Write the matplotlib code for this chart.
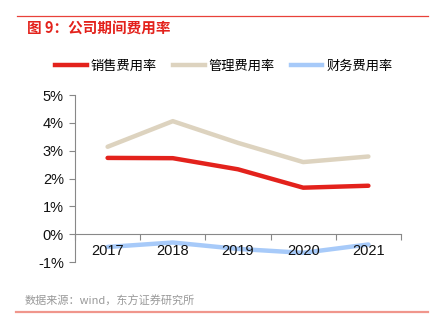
import matplotlib
matplotlib.use("Agg")
import matplotlib.pyplot as plt
from matplotlib.lines import Line2D

plt.rcParams['font.family'] = ['Liberation Sans', 'Noto Sans CJK SC', 'DejaVu Sans']

years = ['2017', '2018', '2019', '2020', '2021']
sales = [2.74, 2.73, 2.33, 1.67, 1.74]
admin = [3.14, 4.06, 3.28, 2.59, 2.79]
finance = [-0.46, -0.30, -0.53, -0.67, -0.37]
yticks = [-1, 0, 1, 2, 3, 4, 5]
series_names = ['销售费用率', '管理费用率', '财务费用率']
colors = ['#E3221C', '#DDD3BF', '#A7CAF9']

W, H = 445, 324
fig = plt.figure(figsize=(W/100, H/100), dpi=100)

ax = fig.add_axes([75/W, 1-262/H, (401-75)/W, (262-95)/H])
x = list(range(len(years)))
for vals, c in zip([sales, admin, finance], colors):
    ax.plot(x, vals, color=c, lw=3.2, solid_capstyle='round', zorder=3)

ax.set_xlim(-0.5, len(years)-0.5)
ax.set_ylim(-1, 5)
ax.set_yticks(yticks)
ax.set_yticklabels([f'{v}%' for v in yticks], fontsize=10.5, color='#111111')
for s in ['top', 'right']:
    ax.spines[s].set_visible(False)
ax.spines['bottom'].set_position(('data', 0))
ax.spines['bottom'].set_color('#888888')
ax.spines['left'].set_color('#888888')
ax.spines['bottom'].set_linewidth(0.8)
ax.spines['left'].set_linewidth(0.8)
ax.tick_params(axis='y', direction='out', length=4, color='#888888', pad=4)
ax.set_xticks([i - 0.5 for i in range(len(years)+1)])
ax.set_xticklabels([])
ax.tick_params(axis='x', direction='out', length=4, color='#888888')
for i, yr in enumerate(years):
    ax.text(i, -0.62, yr, ha='center', va='center', fontsize=10.5, color='#111111')

# legend
handles = [Line2D([0], [0], color=c, lw=3.2) for c in colors]
fig.legend(handles, series_names, loc='center', bbox_to_anchor=(224/W, 1-66/H),
           ncol=3, frameon=False, handlelength=2.4, columnspacing=1.2,
           handletextpad=0.3, prop={'family': ['Noto Sans CJK SC'], 'size': 9.5})

# header / footer
fig.add_artist(Line2D([17/W, 428/W], [1-16/H, 1-16/H], color='#E8413A', lw=0.9))
fig.text(27/W, 1-28/H, '图 9：公司期间费用率', color='#E3221C', fontsize=10.5,
         fontweight='bold', family=['Noto Sans CJK SC'], va='center', ha='left')
fig.text(25/W, 1-301/H, '数据来源：wind，东方证券研究所', color='#999999', fontsize=8,
         family=['Noto Sans CJK SC'], va='center', ha='left')
fig.add_artist(Line2D([16/W, 428/W], [1-312/H, 1-312/H], color='#F0968C', lw=1.6))

fig.savefig('out.png', dpi=100)
